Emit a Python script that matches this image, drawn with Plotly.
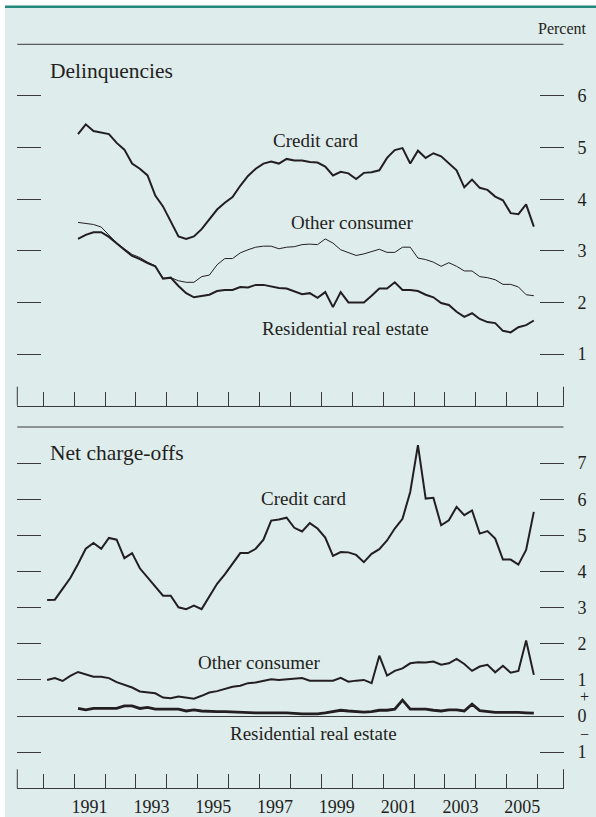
import plotly.graph_objects as go

# ---------------- data (quarterly, percent) ----------------
# Delinquencies: 1991Q1 .. 2005Q4
delinq_start = 1991
delinq_credit_card = [5.26, 5.45, 5.32, 5.29, 5.26, 5.09, 4.96, 4.69, 4.59, 4.46,
                      4.07, 3.86, 3.57, 3.28, 3.23, 3.28, 3.42, 3.62, 3.80, 3.93,
                      4.04, 4.26, 4.45, 4.59, 4.69, 4.73, 4.69, 4.78, 4.75, 4.75,
                      4.72, 4.71, 4.63, 4.46, 4.53, 4.50, 4.39, 4.51, 4.52, 4.56,
                      4.80, 4.95, 4.99, 4.69, 4.94, 4.80, 4.89, 4.83, 4.69, 4.56,
                      4.23, 4.38, 4.22, 4.18, 4.05, 3.98, 3.73, 3.71, 3.90, 3.47]
delinq_other_consumer = [3.55, 3.53, 3.51, 3.46, 3.31, 3.15, 3.04, 2.93, 2.87, 2.78,
                         2.71, 2.47, 2.48, 2.42, 2.39, 2.39, 2.50, 2.53, 2.73, 2.85,
                         2.85, 2.96, 3.02, 3.07, 3.09, 3.09, 3.04, 3.07, 3.08, 3.12,
                         3.13, 3.12, 3.23, 3.15, 3.02, 2.96, 2.91, 2.94, 2.98, 3.03,
                         2.97, 2.97, 3.07, 3.07, 2.86, 2.83, 2.78, 2.70, 2.77, 2.70,
                         2.61, 2.61, 2.50, 2.48, 2.44, 2.35, 2.35, 2.30, 2.15, 2.13]
delinq_residential = [3.23, 3.31, 3.36, 3.36, 3.27, 3.14, 3.02, 2.90, 2.84, 2.76,
                      2.70, 2.46, 2.48, 2.32, 2.18, 2.10, 2.13, 2.15, 2.22, 2.24,
                      2.24, 2.30, 2.29, 2.34, 2.34, 2.31, 2.28, 2.27, 2.22, 2.16,
                      2.18, 2.09, 2.20, 1.91, 2.20, 2.00, 2.00, 2.00, 2.13, 2.27,
                      2.27, 2.39, 2.24, 2.24, 2.22, 2.15, 2.10, 1.99, 1.95, 1.82,
                      1.72, 1.79, 1.68, 1.62, 1.60, 1.45, 1.42, 1.52, 1.56, 1.65]

# Net charge-offs: credit card and other consumer 1990Q1 .. 2005Q4
chargeoff_start = 1990
chargeoff_credit_card = [3.21, 3.22, 3.52, 3.82, 4.21, 4.63, 4.79, 4.63, 4.93, 4.88,
                         4.37, 4.51, 4.09, 3.84, 3.61, 3.33, 3.33, 3.01, 2.96, 3.06,
                         2.96, 3.31, 3.66, 3.92, 4.23, 4.51, 4.51, 4.63, 4.88, 5.41,
                         5.44, 5.49, 5.21, 5.11, 5.34, 5.19, 4.94, 4.43, 4.54, 4.53,
                         4.46, 4.26, 4.49, 4.62, 4.86, 5.19, 5.46, 6.20, 7.50, 6.02,
                         6.04, 5.28, 5.42, 5.79, 5.56, 5.69, 5.05, 5.12, 4.91, 4.33,
                         4.33, 4.19, 4.60, 5.65]
chargeoff_other_consumer = [1.00, 1.05, 0.97, 1.11, 1.22, 1.16, 1.09, 1.09, 1.05, 0.94,
                            0.86, 0.79, 0.68, 0.65, 0.63, 0.51, 0.49, 0.54, 0.51, 0.48,
                            0.56, 0.65, 0.69, 0.75, 0.81, 0.84, 0.91, 0.93, 0.98, 1.02,
                            1.00, 1.02, 1.02, 1.05, 0.98, 0.98, 0.98, 0.98, 1.06, 0.95,
                            0.98, 1.00, 0.91, 1.67, 1.12, 1.25, 1.32, 1.46, 1.49, 1.48,
                            1.51, 1.42, 1.46, 1.58, 1.44, 1.25, 1.37, 1.42, 1.21, 1.39,
                            1.20, 1.25, 2.09, 1.14]
# Residential real estate charge-offs: 1991Q1 .. 2005Q4
chargeoff_res_start = 1991
chargeoff_residential = [0.21, 0.17, 0.21, 0.21, 0.21, 0.21, 0.28, 0.28, 0.21, 0.24,
                         0.19, 0.19, 0.19, 0.19, 0.14, 0.17, 0.14, 0.12, 0.12, 0.12,
                         0.11, 0.09, 0.09, 0.09, 0.09, 0.10, 0.09, 0.09, 0.07, 0.06,
                         0.06, 0.06, 0.09, 0.12, 0.16, 0.14, 0.12, 0.11, 0.12, 0.16,
                         0.16, 0.19, 0.44, 0.19, 0.19, 0.19, 0.16, 0.14, 0.17, 0.17,
                         0.14, 0.33, 0.15, 0.12, 0.10, 0.10, 0.11, 0.10, 0.09, 0.08]

year_ticks = list(range(1990, 2007))
year_labels = [1991, 1993, 1995, 1997, 1999, 2001, 2003, 2005]
top_tickvals = [1, 2, 3, 4, 5, 6]
bottom_tickvals = [-1, 0, 1, 2, 3, 4, 5, 6, 7]
bottom_ticktext = ["1", "0", "1", "2", "3", "4", "5", "6", "7"]

# ---------------- helpers ----------------
W, H = 596, 817
def px(x):
    return x / W
def py(y):
    return 1 - y / H

def quarter_x(start_year, n):
    return [start_year + k // 4 + ((k % 4) + 0.5) / 4 for k in range(n)]

FONT = "Liberation Serif, Times New Roman, serif"
INK = "#231f20"
AX = "#3a3a3a"
BG = "#deecec"

fig = go.Figure()

def add(xs, ys, width, xa, ya):
    fig.add_trace(go.Scatter(x=xs, y=ys, mode="lines",
                             line=dict(color=INK, width=width),
                             xaxis=xa, yaxis=ya, showlegend=False,
                             hoverinfo="skip"))

add(quarter_x(delinq_start, len(delinq_credit_card)), delinq_credit_card, 2.0, "x", "y")
add(quarter_x(delinq_start, len(delinq_other_consumer)), delinq_other_consumer, 1.0, "x", "y")
add(quarter_x(delinq_start, len(delinq_residential)), delinq_residential, 2.0, "x", "y")

add(quarter_x(chargeoff_start, len(chargeoff_credit_card)), chargeoff_credit_card, 2.0, "x2", "y2")
add(quarter_x(chargeoff_start, len(chargeoff_other_consumer)), chargeoff_other_consumer, 2.0, "x2", "y2")
add(quarter_x(chargeoff_res_start, len(chargeoff_residential)), chargeoff_residential, 2.8, "x2", "y2")

xdom = [px(17.3), px(563.5)]
xrange_ = [1989.16, 2006.835]
top_dom = [py(405.7), py(44.3)]
bot_dom = [py(788.3), py(427.0)]

common_x = dict(domain=xdom, range=xrange_, showgrid=False, zeroline=False,
                showline=True, linecolor=AX, linewidth=1,
                tickmode="array", tickvals=[y + 0.5 for y in year_labels],
                ticktext=[str(y) for y in year_labels], ticks="",
                tickfont=dict(family=FONT, size=18, color=INK),
                minor=dict(tickmode="array", tickvals=year_ticks, ticks="inside",
                           ticklen=14, tickwidth=1, tickcolor=AX, showgrid=False),
                fixedrange=True)

fig.update_layout(
    width=W, height=H, autosize=False,
    margin=dict(l=0, r=0, t=0, b=0),
    paper_bgcolor="white", plot_bgcolor="rgba(0,0,0,0)",
    font=dict(family=FONT, color=INK),
    xaxis=dict(common_x, anchor="y", showticklabels=False),
    xaxis2=dict(common_x, anchor="y2", showticklabels=True, ticklabelstandoff=2),
    yaxis=dict(domain=top_dom, range=[0, 7], anchor="x", side="right",
               showgrid=False, zeroline=False, showline=False,
               tickmode="array", tickvals=top_tickvals,
               ticks="inside", ticklen=24, tickwidth=1, tickcolor=AX, mirror="ticks",
               tickfont=dict(family=FONT, size=18, color=INK),
               ticklabelstandoff=13, fixedrange=True),
    yaxis2=dict(domain=bot_dom, range=[-2, 8], anchor="x2", side="right",
                showgrid=False, zeroline=True, zerolinecolor=AX, zerolinewidth=1,
                showline=False,
                tickmode="array", tickvals=bottom_tickvals, ticktext=bottom_ticktext,
                ticks="inside", ticklen=24, tickwidth=1, tickcolor=AX, mirror="ticks",
                tickfont=dict(family=FONT, size=18, color=INK),
                ticklabelstandoff=13, fixedrange=True),
)

shapes = [
    # panel background
    dict(type="rect", xref="paper", yref="paper", x0=px(5), x1=1, y0=0, y1=py(6),
         fillcolor=BG, line=dict(width=0), layer="below"),
    # teal rule at top
    dict(type="line", xref="paper", yref="paper", x0=px(5), x1=1, y0=py(6.7), y1=py(6.7),
         line=dict(color="#24887a", width=2.5)),
]
for xa, ya, hpx in (("x", "y", 361.4), ("x2", "y2", 361.3)):
    shapes.append(dict(type="line", xref=f"{xa} domain", yref=f"{ya} domain",
                       x0=0, x1=1, y0=1, y1=1, line=dict(color=AX, width=1)))
    for xe in (0, 1):
        shapes.append(dict(type="line", xref=f"{xa} domain", yref=f"{ya} domain",
                           x0=xe, x1=xe, y0=0, y1=19 / hpx, line=dict(color=AX, width=1)))
fig.update_layout(shapes=shapes)

def ann(text, x, y, size, xanchor="center", xref="paper", yref="paper"):
    return dict(text=text, x=x, y=y, xref=xref, yref=yref, showarrow=False,
                xanchor=xanchor, yanchor="middle",
                font=dict(family=FONT, size=size, color=INK))

annotations = [
    ann("Percent", px(589), py(29), 16, xanchor="right"),
    ann("Delinquencies", px(48), py(71), 21.5, xanchor="left"),
    ann("Net charge-offs", px(48), py(453), 21.5, xanchor="left"),
    ann("Credit card", px(315), py(140), 19),
    ann("Other consumer", px(352), py(222), 19),
    ann("Residential real estate", px(345), py(328), 19),
    ann("Credit card", px(303), py(498), 19),
    ann("Other consumer", px(259), py(662), 19),
    ann("Residential real estate", px(313), py(733), 19),
    ann("+", px(584), 0.55, 16, yref="y2"),
    ann("\u2212", px(584), -0.5, 16, yref="y2"),
]
fig.update_layout(annotations=annotations)

fig.write_html(
    "out.html",
    config={"displayModeBar": False, "staticPlot": True},
    post_script="document.body.style.margin='0';document.body.style.padding='0';"
                "document.body.style.overflow='hidden';",
)
